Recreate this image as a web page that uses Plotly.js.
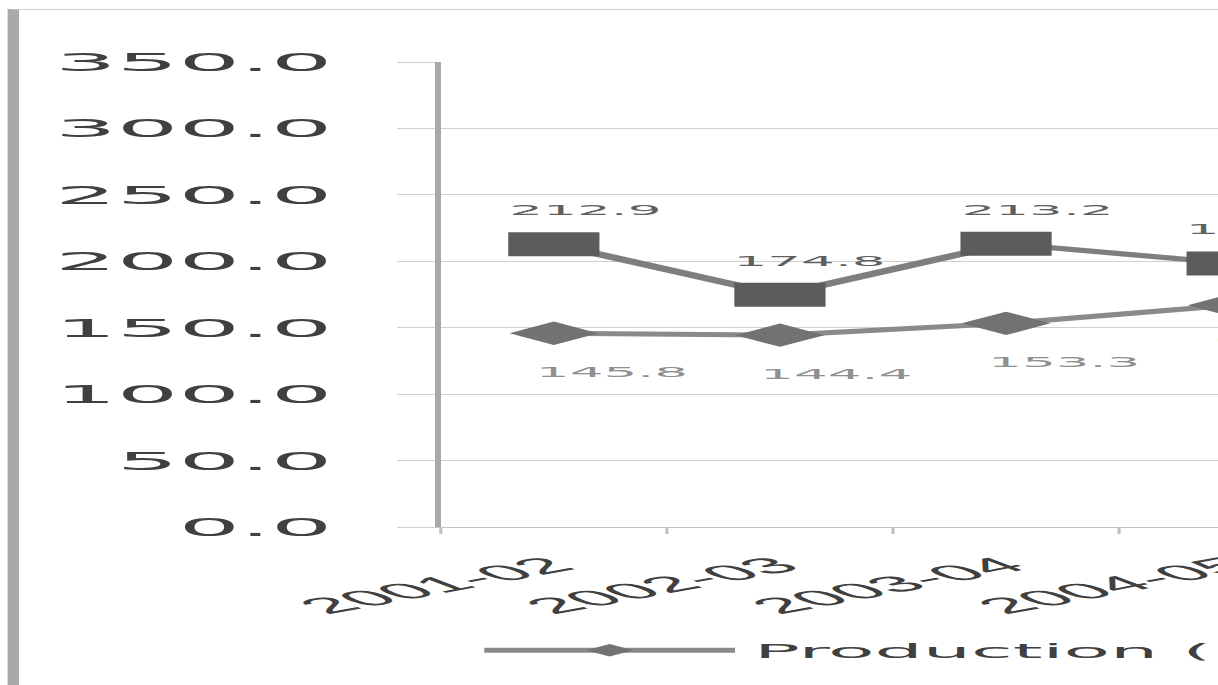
<!DOCTYPE html>
<html>
<head>
<meta charset="utf-8">
<script src="https://cdn.plot.ly/plotly-3.0.1.min.js"></script>
<style>
html,body{margin:0;padding:0;overflow:hidden;background:#fff;width:1218px;height:685px;}
#wrap{position:absolute;left:0;top:0;width:1000px;height:685px;transform:scaleX(3.8);transform-origin:0 0;}
#chart{position:absolute;left:0;top:0;width:1000px;height:685px;}
#frame{position:absolute;left:2px;top:9px;width:1200px;height:1000px;border-left:3.4px solid #a9a9a9;border-top:1px solid #cfcfcf;pointer-events:none;}
</style>
</head>
<body>
<div id="wrap"><div id="chart"></div><div id="frame"></div></div>
<script>
// Data
const categories = ['2001-02', '2002-03', '2003-04', '2004-05'];
const productionLower = [145.8, 144.4, 153.3, 167.0];
const productionUpper = [212.9, 174.8, 213.2, 198.4];
const seriesNames = ['Production (Horticulture)', 'Production (Foodgrains)'];

const numFont = 'DejaVu Sans, sans-serif';

const traces = [
  {
    x: categories, y: productionLower, name: seriesNames[0],
    type: 'scatter', mode: 'lines+markers',
    line: {color: '#8a8a8a', width: 5},
    marker: {symbol: 'diamond', size: 18, color: '#727272'},
    cliponaxis: false
  },
  {
    x: categories, y: productionUpper, name: seriesNames[1],
    type: 'scatter', mode: 'lines+markers',
    line: {color: '#7e7e7e', width: 5},
    marker: {symbol: 'square', size: 24, color: '#5c5c5c'},
    cliponaxis: false,
    showlegend: false   // its legend entry lies beyond the visible crop
  }
];

// data labels, one style per series
function labels(values, color, xshift, yshift) {
  return values.map(function (v, i) {
    return {
      x: categories[i], y: v, xref: 'x', yref: 'y',
      text: v.toFixed(1), showarrow: false,
      xshift: xshift, yshift: yshift,
      font: {family: numFont, size: 14, color: color}
    };
  });
}
const annotations = labels(productionLower, '#8f8f8f', 15, -39)
  .concat(labels(productionUpper, '#5f5f5f', 8, 34));

const layout = {
  width: 1000, height: 685,
  margin: {l: 116, r: 646, t: 62, b: 158},
  paper_bgcolor: '#ffffff', plot_bgcolor: '#ffffff',
  showlegend: true,
  annotations: annotations,
  legend: {
    orientation: 'h', x: 0.027, xanchor: 'left',
    y: -0.265, yanchor: 'middle',
    itemwidth: 66, font: {family: numFont, size: 20, color: '#404040'}
  },
  xaxis: {
    type: 'category', range: [-0.5, 3.5],
    tickson: 'boundaries', ticks: 'outside', ticklen: 6, tickwidth: 0.8, tickcolor: '#bfbfbf',
    showline: true, linecolor: '#c4c4c4', linewidth: 1,
    showgrid: false, zeroline: false,
    tickangle: -35, ticklabelstandoff: 16,
    tickfont: {family: 'Liberation Sans, Arial, sans-serif', size: 22, color: '#404040'}
  },
  yaxis: {
    range: [0, 350], tick0: 0, dtick: 50, tickformat: '.1f',
    showgrid: true, gridcolor: '#cfcfcf', gridwidth: 1,
    ticks: 'outside', ticklen: 10, tickcolor: '#cfcfcf', tickwidth: 1,
    showline: true, linecolor: '#a9a9a9', linewidth: 1.4,
    zeroline: false,
    ticklabelstandoff: 12,
    tickfont: {family: numFont, size: 25.5, color: '#404040'}
  }
};

Plotly.newPlot('chart', traces, layout, {displayModeBar: false, staticPlot: true}).then(function () {
  // smaller legend symbol, as in the reference
  document.querySelectorAll('.legend .legendpoints path.scatterpts').forEach(function (p) {
    var t = p.getAttribute('transform') || '';
    p.setAttribute('transform', t + ' scale(0.6)');
  });
});
</script>
</body>
</html>
